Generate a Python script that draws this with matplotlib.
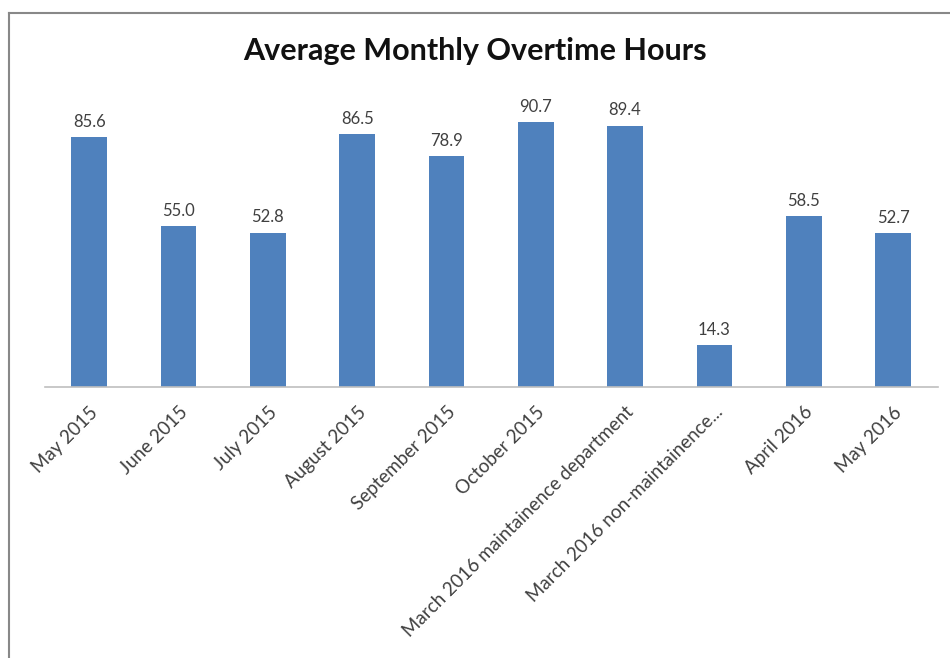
import matplotlib
matplotlib.use('Agg')
import matplotlib.pyplot as plt
from matplotlib.lines import Line2D

# ---- Data ----
months = ['May 2015', 'June 2015', 'July 2015', 'August 2015', 'September 2015',
          'October 2015', 'March 2016 maintainence department',
          'March 2016 non-maintainence...', 'April 2016', 'May 2016']
hours = [85.6, 55.0, 52.8, 86.5, 78.9, 90.7, 89.4, 14.3, 58.5, 52.7]

bar_color = '#4F81BD'
plt.rcParams['font.family'] = ['Lato', 'DejaVu Sans']

fig = plt.figure(figsize=(9.5, 6.58), dpi=100)
ax = fig.add_axes([0.047, 0.412, 0.940, 0.444])

x = range(len(months))
bars = ax.bar(x, hours, width=0.4, color=bar_color)

for b, v in zip(bars, hours):
    ax.text(b.get_x() + b.get_width() / 2, v + 2.5, f'{v:.1f}',
            ha='center', va='bottom', fontsize=12, color='#404040')

ax.set_xlim(-0.5, len(months) - 0.5)
ax.set_ylim(0, 100)
ax.set_yticks([])
ax.set_xticks(list(x))
ax.set_xticklabels(months, rotation=45, ha='right', rotation_mode='anchor',
                   fontsize=13.5, color='#404040')
ax.tick_params(axis='x', length=0, pad=12)

for side in ['top', 'right', 'left']:
    ax.spines[side].set_visible(False)
ax.spines['bottom'].set_color('#BFBFBF')
ax.spines['bottom'].set_linewidth(1.2)

fig.text(0.5, 0.922, 'Average Monthly Overtime Hours', ha='center', va='center',
         fontsize=22, fontweight='bold', color='#111111')

# chart border (top and left edges visible in the screenshot)
fig.add_artist(Line2D([0.0095, 1.0], [0.980, 0.980], transform=fig.transFigure,
                      color='#888888', linewidth=1.5))
fig.add_artist(Line2D([0.0095, 0.0095], [0.0, 0.980], transform=fig.transFigure,
                      color='#888888', linewidth=1.5))

plt.savefig('out.png', dpi=100)
plt.close()
